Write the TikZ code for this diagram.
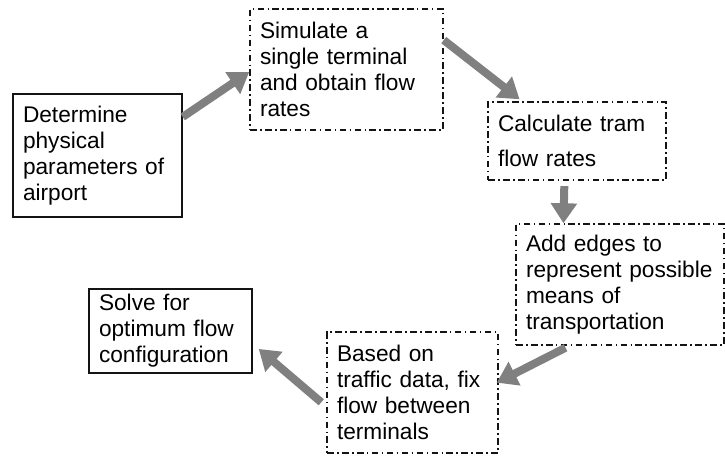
\documentclass[tikz,border=0pt]{standalone}
\usepackage{fontspec}
\setmainfont{Liberation Sans}
\usepackage{tikz}
\usetikzlibrary{arrows.meta, calc}
\hyphenpenalty=10000
\exhyphenpenalty=10000
\definecolor{arrowgray}{RGB}{128,128,128}
\definecolor{boxdark}{RGB}{20,20,20}
\tikzset{
  stepbox/.style={rectangle, draw=boxdark, line width=1.1pt, inner xsep=7.5pt,
    inner ysep=0pt, align=left, font=\fontsize{17}{19.5}\selectfont},
  plan/.style={stepbox, dash pattern=on 5pt off 2.5pt on 1.2pt off 2.5pt},
  flow/.style={-{Triangle[length=15pt,width=19pt]}, line width=6pt, draw=arrowgray}
}

\begin{document}
\begin{tikzpicture}[x=0.75pt, y=-0.75pt]
    \useasboundingbox (0,0) rectangle (725,456);

    % Steps
    \node[stepbox, text width=111.75pt, minimum height=92.25pt] (determine) at (97.5,155.5)
      {Determine\\physical\\parameters of\\airport};
    \node[plan, text width=129.75pt, minimum height=90.75pt] (simulate) at (346.5,69.5)
      {Simulate a\\single terminal\\and obtain flow\\rates};
    \node[plan, text width=118.5pt, minimum height=58.5pt] (calctram) at (577,141)
      {Calculate tram\\[6.5pt]flow rates};
    \node[plan, text width=141pt, minimum height=90.75pt] (addedges) at (620,284.5)
      {Add edges to\\represent possible\\means of\\transportation};
    \node[plan, text width=113.25pt, minimum height=90.75pt] (fixflow) at (412.5,392.5)
      {Based on\\traffic data, fix\\flow between\\terminals};
    \node[stepbox, text width=107.25pt, minimum height=63pt] (solve) at (170.5,331)
      {Solve for\\optimum flow\\configuration};

    % Arrows
    \draw[flow] ($(determine.north east)!0.19!(determine.south east)$)
      -- ($(simulate.north west)!0.52!(simulate.south west)$);
    \draw[flow] ($(simulate.north east)!0.26!(simulate.south east)$)
      -- ($(calctram.north west)!0.18!(calctram.north east)+(0,-2)$);
    \draw[flow, shorten <=4pt] ($(calctram.south west)!0.43!(calctram.south east)$)
      -- ($(addedges.north west)!0.23!(addedges.north east)$);
    \draw[flow] ($(addedges.south west)!0.24!(addedges.south east)+(0,2)$)
      -- ($(fixflow.north east)!0.42!(fixflow.south east)+(-2,0)$);
    \draw[flow] ($(fixflow.north west)!0.58!(fixflow.south west)+(-5,0)$)
      -- ($(solve.north east)!0.71!(solve.south east)+(6,0)$);
\end{tikzpicture}
\end{document}
